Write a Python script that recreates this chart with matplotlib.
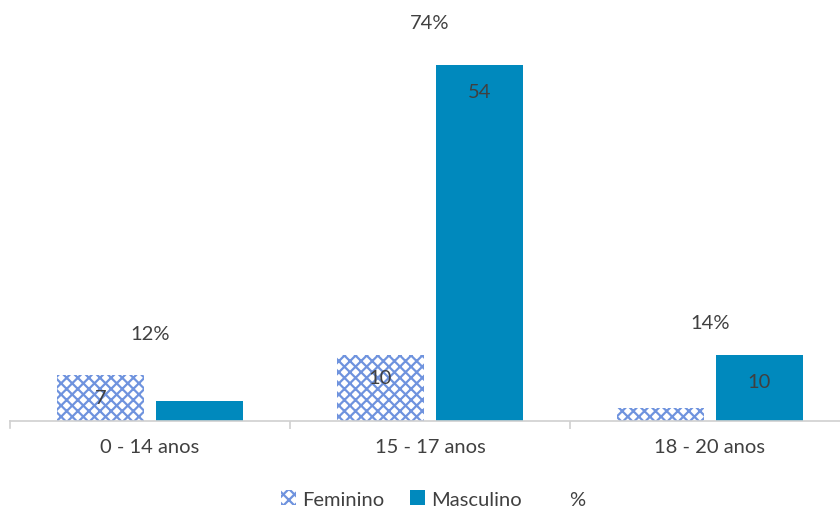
import numpy as np
import matplotlib
matplotlib.use("Agg")
import matplotlib.pyplot as plt
from matplotlib.patches import Patch
from matplotlib.lines import Line2D

plt.rcParams['font.family'] = ['Lato', 'DejaVu Sans']
plt.rcParams['hatch.linewidth'] = 1.6

categories = ['0 - 14 anos', '15 - 17 anos', '18 - 20 anos']
feminino = [7, 10, 2]
masculino = [3, 54, 10]
fem_labels = ['7', '10', None]
masc_labels = [None, '54', '10']
pct_labels = ['12%', '74%', '14%']
pct_level = [13.2, 60.4, 15.0]   # invisible "%" series the labels sit on

text_col = '#404040'
masc_col = '#0089BD'
fem_col = '#6f93de'
fs = 14.5

fig = plt.figure(figsize=(8.4, 5.1), dpi=100)
ax = fig.add_axes([10 / 840, 88 / 510, 1.0, 422 / 510])

x = np.arange(len(categories))
w = 87 / 280
gap = 12 / 280

bf = ax.bar(x - 0.5 * (w + gap), feminino, w, color='white',
            edgecolor=fem_col, hatch='xxx', linewidth=0)
bm = ax.bar(x + 0.5 * (w + gap), masculino, w, color=masc_col, linewidth=0)

for rect, lab in zip(bf, fem_labels):
    if lab:
        ax.annotate(lab, (rect.get_x() + rect.get_width() / 2, rect.get_height()),
                    xytext=(0, -16), textcoords='offset points', ha='center',
                    va='center', fontsize=fs, color=text_col)
for rect, lab in zip(bm, masc_labels):
    if lab:
        ax.annotate(lab, (rect.get_x() + rect.get_width() / 2, rect.get_height()),
                    xytext=(0, -19), textcoords='offset points', ha='center',
                    va='center', fontsize=fs, color=text_col)

ax.plot(x, pct_level, color='none')
for xi, yi, lab in zip(x, pct_level, pct_labels):
    ax.text(xi, yi, lab, ha='center', va='center', fontsize=fs, color=text_col)

ax.set_xlim(-0.5, -0.5 + 830 / 280)
ax.set_ylim(0, 64)
ax.set_yticks([])
ax.set_xticks(x)
ax.set_xticklabels(categories, fontsize=fs, color=text_col)
ax.set_xticks([0.5, 1.5, 2.5], minor=True)
ax.tick_params(axis='x', which='major', length=0, pad=12)
ax.tick_params(axis='x', which='minor', length=6, color='#d0d0d0', width=1.2)
for s in ['top', 'right', 'left']:
    ax.spines[s].set_visible(False)
ax.spines['bottom'].set_color('#d0d0d0')
ax.spines['bottom'].set_linewidth(1.2)
ax.spines['bottom'].set_bounds(-0.5, 3)
ax.plot([-0.5, -0.5], [0, -1], color='#d0d0d0', lw=1.2, clip_on=False)

handles = [Patch(facecolor='white', edgecolor=fem_col, hatch='xxx', linewidth=0),
           Patch(facecolor=masc_col),
           Line2D([], [], color='none')]
fig.legend(handles, ['Feminino', 'Masculino', '%'], loc='center',
           bbox_to_anchor=(433 / 840, 1 - 500 / 510), ncol=3, frameon=False,
           fontsize=fs, labelcolor=text_col, handlelength=0.75, handleheight=0.75,
           handletextpad=0.3, columnspacing=1.3)

fig.savefig('out.png', dpi=100)
